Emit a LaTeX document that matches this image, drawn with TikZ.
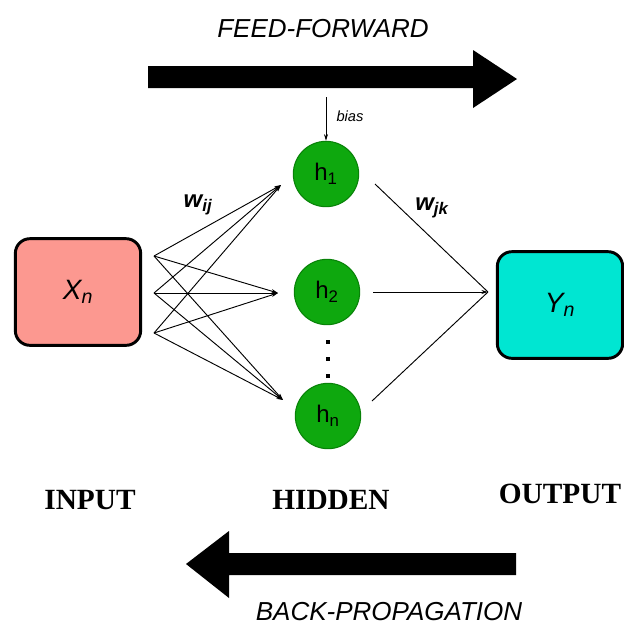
\documentclass[tikz,border=0pt]{standalone}
\usepackage{fontspec}
\setmainfont{Liberation Serif}
\setsansfont{Liberation Sans}
\usetikzlibrary{arrows.meta}
\definecolor{inputpink}{RGB}{252,152,144}
\definecolor{outputcyan}{RGB}{0,230,210}
\definecolor{hiddengreen}{RGB}{14,168,14}
\definecolor{hiddenborder}{RGB}{8,130,8}

\begin{document}
\begin{tikzpicture}[x=0.75pt, y=-0.75pt,
    every node/.style={align=center, font=\sffamily},
    layerbox/.style={draw=black, line width=2.2pt, rounded corners=11pt, minimum width=94pt, minimum height=80pt, font=\sffamily\itshape\fontsize{21}{24}\selectfont},
    neuron/.style={circle, fill=hiddengreen, draw=hiddenborder, line width=0.8pt, minimum size=49pt, inner sep=0pt, font=\sffamily\fontsize{18}{20}\selectfont},
    layername/.style={font=\rmfamily\bfseries\fontsize{22}{26}\selectfont},
    direction/.style={font=\sffamily\itshape\fontsize{19.5}{22}\selectfont},
    weight/.style={font=\sffamily\bfseries\itshape\fontsize{18}{20}\selectfont},
    link/.style={line width=0.7pt, -{Stealth[length=5pt, width=3pt]}}]

    \useasboundingbox (0,0) rectangle (624,637);

    % Big arrows
    \fill (148,66) -- (473,66) -- (473,50) -- (517,79) -- (473,108) -- (473,88) -- (148,88) -- cycle;
    \node[direction] (ffText) at (323,29) {FEED-FORWARD};
    \fill (516,553) -- (229,553) -- (229,531) -- (186,564) -- (229,598) -- (229,575) -- (516,575) -- cycle;
    \node[direction] (bpText) at (389,612) {BACK-PROPAGATION};

    % Input and output boxes
    \node[layerbox, fill=inputpink] (xBox) at (78,292) {X\textsubscript{n}};
    \node[layerbox, fill=outputcyan] (yBox) at (560,305) {Y\textsubscript{n}};

    % Hidden neurons
    \node[neuron] (h1) at (326,174) {h\textsubscript{1}};
    \node[neuron] (h2) at (327,292) {h\textsubscript{2}};
    \node[neuron] (hn) at (328,416) {h\textsubscript{n}};
    \foreach \y in {340,357,374}
        \fill (326,\y) rectangle +(4,4);

    % Bias
    \coordinate (biasTop) at (326,97);
    \draw[line width=0.7pt, -{Stealth[length=5pt, width=3pt]}] (biasTop) -- (h1.north);
    \node[font=\sffamily\itshape\fontsize{11}{13}\selectfont] (biasText) at (350,116) {bias};

    % Input to hidden
    \coordinate (in1) at (154,256);
    \coordinate (in2) at (154,293);
    \coordinate (in3) at (154,333);
    \coordinate (t1) at (281,185);
    \coordinate (t2) at (278,293);
    \coordinate (t3) at (283,400);
    \foreach \i in {in1,in2,in3}
        \foreach \t in {t1,t2,t3}
            \draw[link] (\i) -- (\t);
    \node[weight] (wij) at (198,205) {w\textsubscript{ij}};

    % Hidden to output
    \coordinate (o1) at (375,184);
    \coordinate (o2) at (373,292);
    \coordinate (o3) at (372,401);
    \coordinate (out) at (488,292);
    \draw[line width=0.7pt] (o1) -- (out) (o3) -- (out);
    \draw[link] (o2) -- (out);
    \node[weight] (wjk) at (432,208) {w\textsubscript{jk}};

    % Layer names
    \node[layername] (inText) at (90,500) {INPUT};
    \node[layername] (hidText) at (331,500) {HIDDEN};
    \node[layername] (outText) at (560,494) {OUTPUT};

\end{tikzpicture}
\end{document}
